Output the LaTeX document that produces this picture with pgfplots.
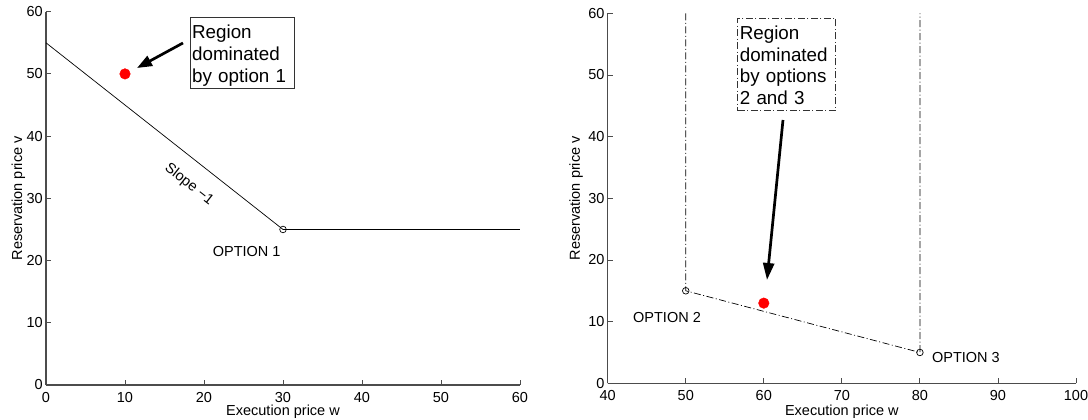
\documentclass[border=0pt]{standalone}
\usepackage{fontspec}
\setmainfont{Liberation Sans}
\usepackage{pgfplots}
\pgfplotsset{compat=1.18}
\usetikzlibrary{arrows.meta}
\definecolor{axgray}{gray}{0.3}
\pgfplotsset{
  mystyle/.style={
    scale only axis,
    axis x line*=bottom, axis y line*=left,
    axis line style={-, draw=axgray, line width=1.1pt},
    tick style={draw=axgray, line width=0.9pt},
    tick align=inside,
    major tick length=5pt,
    font=\fontsize{14.5}{17}\selectfont,
    /pgf/number format/assume math mode=true,
    ymin=0, ymax=60, ytick={0,10,...,60},
    clip=false,
    xlabel={Execution price w}, ylabel={Reservation price v},
    yticklabel style={inner sep=0pt, anchor=east, xshift=-3pt},
    xticklabel style={inner sep=0pt, anchor=north, yshift=-7pt},
  },
}
\tikzset{
  bigtext/.style={font=\fontsize{18.8}{21.7}\selectfont, anchor=north west, align=left, inner xsep=2pt, inner ysep=2pt},
  dashdot/.style={dash pattern=on 7pt off 2.5pt on 1pt off 2.5pt},
}
\begin{document}
\begin{tikzpicture}[x=1pt,y=1pt]
\useasboundingbox (0,0) rectangle (1088,420);
% left
\begin{axis}[mystyle,
  at={(46pt,35pt)}, anchor=south west, width=474pt, height=373.3pt,
  xmin=0, xmax=60, xtick={0,10,...,60},
  ylabel style={at={(axis description cs:-0.0506,0.5)}, anchor=base, rotate=0},
  xlabel style={at={(axis description cs:0.5,-0.0804)}, anchor=base},
]
\addplot[black, line width=0.7pt] coordinates {(0,55) (30,25) (60,25)};
\addplot[only marks, mark=o, mark size=3.3pt, black, mark options={line width=0.7pt}] coordinates {(30,25)};
\addplot[only marks, mark=*, mark size=5.3pt, red, mark options={draw=red}] coordinates {(10,50)};
\node[bigtext, draw=black!80, line width=0.8pt, text width=100pt] at (axis cs:18.19,59.15)
  {\rule{0pt}{19.5pt}Region\\dominated\\by option 1\rule[-4pt]{0pt}{4pt}};
\draw[-{Triangle[length=15pt,width=11pt]}, line width=2.7pt] (axis cs:17.34,54.97) -- (axis cs:11.52,50.95);
\node[rotate=-38.2] at (axis cs:18.1,32.2) {Slope −1};
\node at (axis cs:25.4,21.4) {OPTION 1};
\end{axis}
% right
\begin{axis}[mystyle,
  at={(607.7pt,36.7pt)}, anchor=south west, width=468.3pt, height=370pt,
  xmin=40, xmax=100, xtick={40,50,...,100},
  ylabel style={at={(axis description cs:-0.0592,0.5)}, anchor=base, rotate=0},
  xlabel style={at={(axis description cs:0.5,-0.0865)}, anchor=base},
]
\addplot[black, line width=0.7pt, dashdot] coordinates {(50,60) (50,15) (80,5) (80,60)};
\addplot[only marks, mark=o, mark size=3.3pt, black, mark options={line width=0.7pt, solid}] coordinates {(50,15) (80,5)};
\addplot[only marks, mark=*, mark size=5.3pt, red, mark options={draw=red}] coordinates {(60,13)};
\node[bigtext, draw=black!80, line width=0.8pt, dashdot, text width=93.7pt] at (axis cs:56.62,59.3)
  {\rule{0pt}{19.5pt}Region\\dominated\\by options\\2 and 3\rule[-4pt]{0pt}{4pt}};
\draw[-{Triangle[length=17pt,width=11pt]}, line width=2.7pt] (axis cs:62.46,42.7) -- (axis cs:60.41,16.75);
\node at (axis cs:47.6,10.7) {OPTION 2};
\node at (axis cs:85.9,4.2) {OPTION 3};
\end{axis}
\end{tikzpicture}
\end{document}
